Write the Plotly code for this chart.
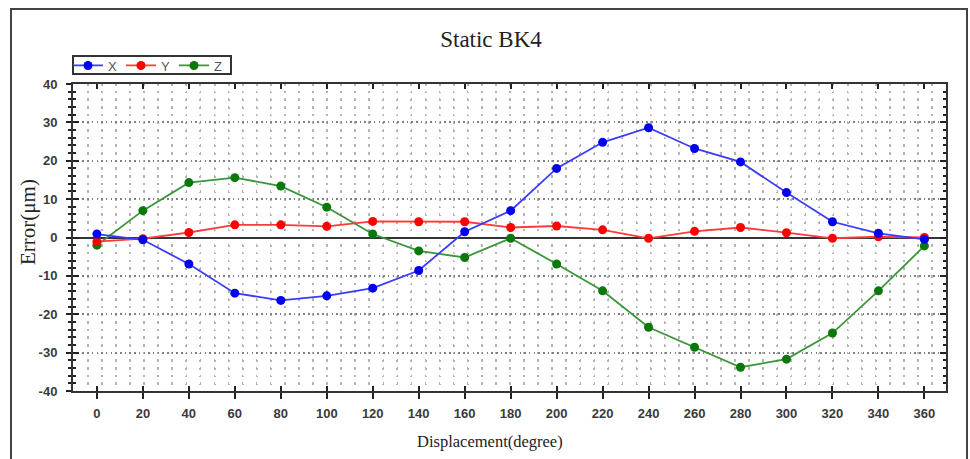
import plotly.graph_objects as go

# Angular position of the axis (degrees)
displacement = [0, 20, 40, 60, 80, 100, 120, 140, 160, 180,
                200, 220, 240, 260, 280, 300, 320, 340, 360]

# Measured static error per axis (um)
err_x = [0.9, -0.6, -6.9, -14.5, -16.4, -15.2, -13.2, -8.6, 1.5, 7.0,
         18.0, 24.8, 28.6, 23.2, 19.7, 11.7, 4.1, 1.1, -0.5]
err_y = [-1.1, -0.3, 1.3, 3.3, 3.3, 2.9, 4.2, 4.1, 4.1, 2.6,
         3.0, 2.0, -0.2, 1.6, 2.6, 1.25, -0.2, 0.2, 0.0]
err_z = [-2.0, 7.0, 14.3, 15.6, 13.4, 7.9, 0.9, -3.5, -5.2, -0.2,
         -6.9, -13.9, -23.4, -28.6, -33.8, -31.7, -24.9, -13.9, -2.2]

x_tick_vals = list(range(0, 361, 20))
x_tick_text = [str(v) for v in x_tick_vals]
y_tick_vals = [-40, -30, -20, -10, 0, 10, 20, 30, 40]
y_tick_text = ["-40", "-30", "-20", "-10", "0", "10", "20", "30", "40"]

X_RANGE = [-10.4, 369.4]
Y_RANGE = [-40, 40]

series = [
    ("Z", err_z, "#3a963a", "#0b780b"),
    ("Y", err_y, "#ff3a3a", "#ff0000"),
    ("X", err_x, "#3b3bff", "#0000f0"),
]

fig = go.Figure()
for name, vals, line_col, mk_col in series:
    fig.add_trace(go.Scatter(
        x=displacement, y=vals, name=name, mode="lines+markers",
        line=dict(color=line_col, width=1.8),
        marker=dict(color=mk_col, size=9, symbol="circle"),
    ))

# Empty trace that carries the overlay axes used for the inner tick marks
fig.add_trace(go.Scatter(x=[None], y=[None], xaxis="x2", yaxis="y2",
                         showlegend=False, hoverinfo="skip"))

tick_font = dict(family="Liberation Sans, Arial, sans-serif", size=13,
                 color="#3a3a3a", weight="bold")
serif = "Liberation Serif, Times New Roman, serif"


def px_x(p):
    return (p - 73) / 873


def px_y(p):
    return (391 - p) / 307


fig.update_layout(
    width=970, height=459,
    margin=dict(l=73, r=24, t=84, b=68),
    paper_bgcolor="white", plot_bgcolor="white",
    title=dict(text="Static BK4", x=491 / 970, xref="container", xanchor="center",
               y=1 - 39 / 459, yref="container", yanchor="middle",
               font=dict(family=serif, size=23, color="#222222")),
    showlegend=True,
    legend=dict(orientation="h", x=px_x(68), xanchor="left", y=px_y(65.5), yanchor="middle",
                traceorder="reversed", borderwidth=0,
                bgcolor="rgba(0,0,0,0)", font=dict(family="Liberation Sans, Arial, sans-serif",
                                                   size=13, color="#555555"),
                entrywidth=8, entrywidthmode="pixels",
                itemwidth=30, tracegroupgap=0),
    xaxis=dict(
        range=X_RANGE, tickmode="array", tickvals=x_tick_vals, ticktext=x_tick_text,
        ticks="outside", ticklen=6, tickwidth=2, tickcolor="#222222",
        showline=True, linecolor="#333333", linewidth=2, mirror=True,
        showgrid=False, zeroline=False, tickfont=tick_font, ticklabelstandoff=3,
        minor=dict(tickmode="linear", tick0=-3.91, dtick=6.12, ticks="",
                   showgrid=True, gridcolor="#b4b4b4", gridwidth=1.5,
                   griddash="1.5px,6.18px"),
    ),
    yaxis=dict(
        range=Y_RANGE, tickmode="array", tickvals=y_tick_vals, ticktext=y_tick_text,
        ticks="outside", ticklen=5, tickwidth=2, tickcolor="#222222",
        showline=True, linecolor="#333333", linewidth=2, mirror=True,
        showgrid=True, gridcolor="#808080", gridwidth=1.5, griddash="1.5px,3.2px",
        zeroline=True, zerolinecolor="#333333", zerolinewidth=2,
        tickfont=tick_font, ticklabelstandoff=6,
        minor=dict(tickmode="linear", tick0=0, dtick=2, ticks="outside",
                   ticklen=3, tickwidth=2, tickcolor="#222222",
                   showgrid=True, gridcolor="#b4b4b4", gridwidth=1.5,
                   griddash="1.5px,12.57px"),
    ),
    xaxis2=dict(
        range=X_RANGE, overlaying="x", anchor="y", side="bottom",
        tickmode="array", tickvals=x_tick_vals, showticklabels=False,
        ticks="inside", ticklen=5, tickwidth=2, tickcolor="#222222",
        mirror="ticks", showline=False, showgrid=False, zeroline=False,
    ),
    yaxis2=dict(
        range=Y_RANGE, overlaying="y", anchor="x", side="left",
        tickmode="array", tickvals=y_tick_vals, showticklabels=False,
        ticks="inside", ticklen=6, tickwidth=2, tickcolor="#222222",
        mirror="ticks", showline=False, showgrid=False, zeroline=False,
        minor=dict(tickmode="linear", tick0=0, dtick=2, ticks="inside",
                   ticklen=3, tickwidth=2, tickcolor="#222222", showgrid=False),
    ),
    annotations=[
        dict(text="Displacement(degree)", xref="paper", yref="paper",
             x=px_x(490), y=px_y(441), xanchor="center", yanchor="middle",
             showarrow=False, font=dict(family=serif, size=16.5, color="#222222")),
        dict(text="Error(μm)", xref="paper", yref="paper", textangle=-90,
             x=px_x(28), y=px_y(222), xanchor="center", yanchor="middle",
             showarrow=False, font=dict(family=serif, size=21, color="#222222")),
    ],
    shapes=[
        # outer figure frame
        dict(type="rect", xref="paper", yref="paper",
             x0=px_x(11), x1=px_x(967), y0=px_y(480), y1=px_y(9),
             line=dict(color="#444444", width=2), fillcolor="rgba(0,0,0,0)", layer="below"),
        # legend box
        dict(type="rect", xref="paper", yref="paper",
             x0=px_x(73), x1=px_x(231), y0=px_y(74), y1=px_y(56),
             line=dict(color="#333333", width=2), fillcolor="white", layer="below"),
    ],
)

fig.write_html("out.html")
